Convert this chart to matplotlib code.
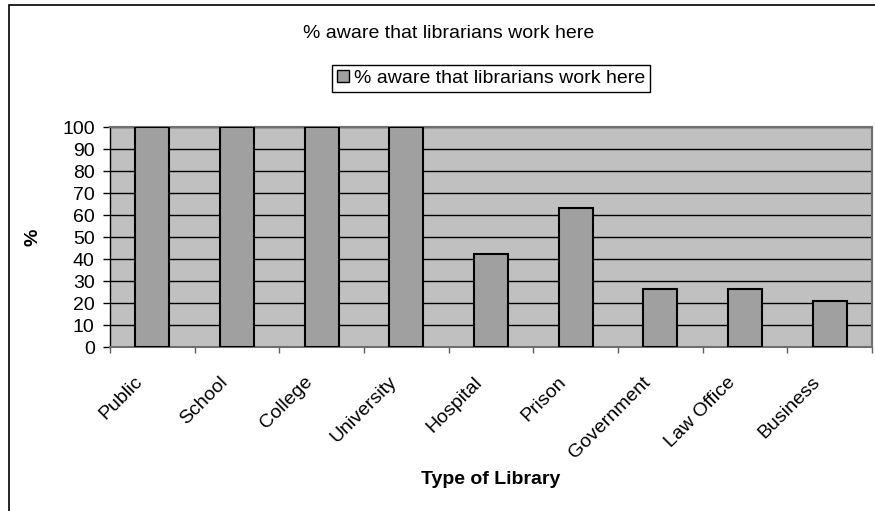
import matplotlib
matplotlib.use("Agg")
import matplotlib.pyplot as plt
import matplotlib.transforms as mtransforms
from matplotlib.patches import Patch, Rectangle
import numpy as np

categories = ["Public", "School", "College", "University", "Hospital",
              "Prison", "Government", "Law Office", "Business"]
values = [100, 100, 100, 100, 42.1, 63.2, 26.3, 26.3, 21.1]
series_name = "% aware that librarians work here"
title = "% aware that librarians work here"
ylabel = "%"
xlabel = "Type of Library"
yticks = [0, 10, 20, 30, 40, 50, 60, 70, 80, 90, 100]

plt.rcParams['font.family'] = ['Liberation Sans', 'DejaVu Sans']
FS = 14

W, H = 875, 511
fig = plt.figure(figsize=(W / 100, H / 100), dpi=100)
fig.patch.set_facecolor('white')

# chart area border
fig.add_artist(Rectangle((9 / W, -0.01), 1.02 - 9 / W, 1 - 5 / H + 0.01,
                         transform=fig.transFigure, fill=False,
                         edgecolor='black', linewidth=1.2))

ax = fig.add_axes([110 / W, 1 - 347 / H, (872 - 110) / W, 220 / H])
ax.set_facecolor('#C0C0C0')

x = np.arange(len(categories))
ax.bar(x, values, width=0.4, color='#A0A0A0', edgecolor='black',
       linewidth=1.5, zorder=3)

ax.set_xlim(-0.5, len(categories) - 0.5)
ax.set_ylim(0, 100)
ax.set_yticks(yticks)
ax.set_yticklabels([str(t) for t in yticks], fontsize=FS)
ax.yaxis.grid(True, color='black', linewidth=1)
ax.set_axisbelow(True)

# major ticks at category boundaries, labels at centres
ax.set_xticks(np.arange(-0.5, len(categories) + 0.5, 1))
ax.set_xticklabels([])
ax.set_xticks(x, minor=True)
ax.set_xticklabels(categories, minor=True, rotation=45, ha='right',
                   va='top', fontsize=FS)
ax.tick_params(axis='x', which='minor', length=0, pad=19)
ax.tick_params(axis='x', which='major', length=4.5, color='#606060', width=1)
ax.tick_params(axis='y', length=5, color='black', width=1, pad=6)
off = mtransforms.ScaledTranslation(-6 / 100, 0, fig.dpi_scale_trans)
for lbl in ax.get_xticklabels(minor=True):
    lbl.set_transform(lbl.get_transform() + off)

for side in ['top', 'right', 'bottom']:
    ax.spines[side].set_color('#707070')
    ax.spines[side].set_linewidth(1.5)
ax.spines['left'].set_color('black')
ax.spines['left'].set_linewidth(1)

fig.text(449 / W, 1 - 33 / H, title, ha='center', va='center', fontsize=FS)

ax.set_ylabel(ylabel, fontsize=FS, fontweight='bold')
ax.yaxis.set_label_coords(-(110 - 42) / (872 - 110), 0.5)
fig.text(491 / W, 1 - 480 / H, xlabel, ha='center', va='center',
         fontsize=FS, fontweight='bold')

handle = Patch(facecolor='#A0A0A0', edgecolor='black', linewidth=1)
leg = fig.legend([handle], [series_name], loc='upper left',
                 bbox_to_anchor=(332 / W, 1 - 65 / H), fontsize=FS,
                 frameon=True, fancybox=False, framealpha=1,
                 edgecolor='black', handlelength=0.62, handleheight=0.62,
                 handletextpad=0.25, borderpad=0.25, borderaxespad=0)
leg.get_frame().set_linewidth(1)

fig.savefig("out.png", dpi=100)
